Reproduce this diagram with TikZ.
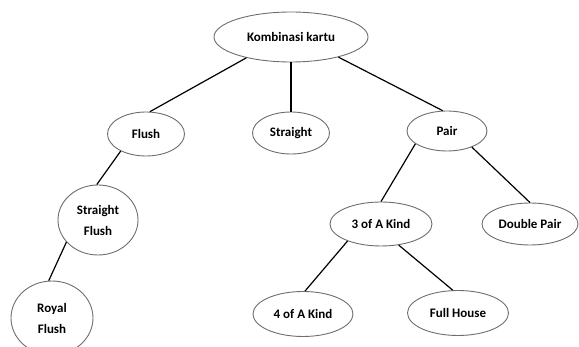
\documentclass[tikz,border=0pt]{standalone}
\usepackage{fontspec}
\setmainfont{Carlito}
\usetikzlibrary{shapes.geometric}
\definecolor{rim}{HTML}{6E6E6E}
\tikzset{
  card/.style={ellipse, draw=rim, line width=0.9pt, fill=white, inner sep=0pt,
    font=\bfseries\fontsize{13}{21}\selectfont, align=center},
  link/.style={draw=black, line width=1.2pt},
}

\begin{document}
\begin{tikzpicture}[x=1pt, y=-1pt]
\useasboundingbox (0,0) rectangle (579,347);
% root
\node[card, minimum width=154, minimum height=50] (kombinasi) at (291,37) {Kombinasi kartu};
% level 1
\node[card, minimum width=77, minimum height=44] (flush) at (146,134) {Flush};
\node[card, minimum width=77, minimum height=42] (straight) at (291,133) {Straight};
\node[card, minimum width=80, minimum height=40] (pair) at (447,131) {Pair};
% level 2
\node[card, minimum width=80, minimum height=70] (sflush) at (98,220) {Straight\\Flush};
\node[card, minimum width=102, minimum height=44] (three) at (381,224) {3 of A Kind};
\node[card, minimum width=96, minimum height=42] (double) at (530,224) {Double Pair};
% level 3
\node[card, minimum width=82, minimum height=74] (royal) at (52,318) {Royal\\Flush};
\node[card, minimum width=100, minimum height=45] (four) at (303,314) {4 of A Kind};
\node[card, minimum width=101, minimum height=45] (full) at (458,313) {Full House};
% edges
\draw[link] (kombinasi.205) -- (flush.80);
\draw[link] (kombinasi.south) -- (straight.north);
\draw[link] (kombinasi.337) -- (pair.102);
\draw[link] (flush.214) -- (sflush.92);
\draw[link] (sflush.215) -- (royal.95);
\draw[link] (pair.202) -- (three.90);
\draw[link] (pair.327) -- (double.90);
\draw[link] (three.207) -- (four.85);
\draw[link] (three.310) -- (full.103);
\end{tikzpicture}
\end{document}
